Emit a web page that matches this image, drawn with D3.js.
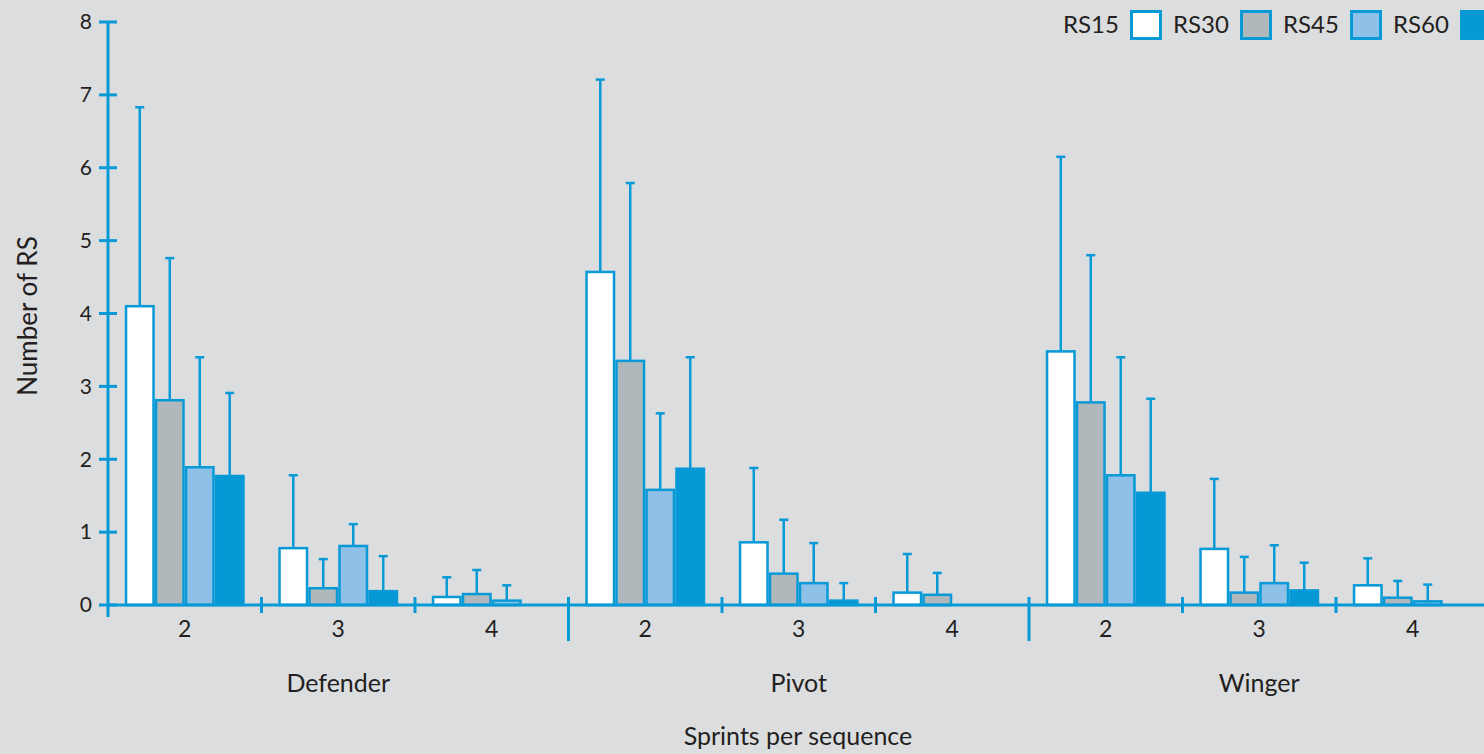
<!DOCTYPE html>
<html>
<head>
<meta charset="utf-8">
<script src="https://cdn.jsdelivr.net/npm/d3@7"></script>
<style>
  html, body { margin: 0; padding: 0; background: #dcdddf; overflow: hidden; }
  svg { display: block; font-family: Lato, "Noto Sans", sans-serif; }
</style>
</head>
<body>
<svg id="chart" width="1484" height="754"></svg>
<script>
// Positions on court and sprints per sequence
const positions = ["Defender", "Pivot", "Winger"];
const sprints = ["2", "3", "4"];
const series = ["RS15", "RS30", "RS45", "RS60"];
const yTicks = [0, 1, 2, 3, 4, 5, 6, 7, 8];

// Mean number of repeated sprints, ordered position x sprints
const rs15 = [4.10, 0.78, 0.11, 4.57, 0.86, 0.17, 3.48, 0.77, 0.27];
const rs30 = [2.81, 0.23, 0.15, 3.35, 0.43, 0.14, 2.78, 0.17, 0.10];
const rs45 = [1.89, 0.81, 0.06, 1.58, 0.30, 0, 1.78, 0.30, 0.05];
const rs60 = [1.77, 0.19, 0, 1.87, 0.06, 0, 1.54, 0.20, 0];

// Standard deviations (upper whisker length)
const sd15 = [2.73, 1.00, 0.27, 2.64, 1.02, 0.53, 2.67, 0.96, 0.37];
const sd30 = [1.95, 0.40, 0.33, 2.44, 0.74, 0.30, 2.02, 0.49, 0.23];
const sd45 = [1.51, 0.30, 0.21, 1.05, 0.55, 0, 1.62, 0.52, 0.23];
const sd60 = [1.14, 0.48, 0, 1.53, 0.24, 0, 1.29, 0.38, 0];

const means = [rs15, rs30, rs45, rs60];
const sds = [sd15, sd30, sd45, sd60];

const fills = ["#ffffff", "#b1b8bb", "#8ec0e8", "#0798d6"];
const blue = "#0899d7";
const textColor = "#231f20";

const svg = d3.select("#chart");

const plotLeft = 108, plotTop = 22, plotBottom = 605;
const step = 153.5;

const y = d3.scaleLinear().domain([0, 8]).range([plotBottom, plotTop]);

const xGroup = d3.scaleBand().domain(positions)
  .range([plotLeft, plotLeft + step * 9]).padding(0);
const xSub = d3.scaleBand().domain(sprints)
  .range([0, xGroup.bandwidth()]).padding(0);
const xSeries = d3.scaleBand().domain(series)
  .range([0, xSub.bandwidth()]).paddingInner(0).paddingOuter(0.56);

// Flatten into records
const records = [];
positions.forEach((p, pi) => {
  sprints.forEach((s, si) => {
    const k = pi * 3 + si;
    series.forEach((r, ri) => {
      records.push({ p, s, r, ri, mean: means[ri][k], sd: sds[ri][k] });
    });
  });
});

const xOf = d => xGroup(d.p) + xSub(d.s) + xSeries(d.r);
const bw = xSeries.bandwidth();
const sw = 2.5;

const drawn = records.filter(d => d.mean > 0);

// Error whiskers (drawn behind bars)
const err = svg.append("g").attr("stroke", blue).attr("stroke-width", sw).attr("fill", "none");
err.selectAll("line.v").data(drawn).join("line")
  .attr("class", "v")
  .attr("x1", d => xOf(d) + bw / 2).attr("x2", d => xOf(d) + bw / 2)
  .attr("y1", d => y(d.mean)).attr("y2", d => y(d.mean + d.sd));
err.selectAll("line.cap").data(drawn).join("line")
  .attr("class", "cap")
  .attr("x1", d => xOf(d) + bw / 2 - 4.5).attr("x2", d => xOf(d) + bw / 2 + 4.5)
  .attr("y1", d => y(d.mean + d.sd)).attr("y2", d => y(d.mean + d.sd));

// Bars
svg.append("g").selectAll("rect").data(drawn).join("rect")
  .attr("x", d => xOf(d) + sw / 2)
  .attr("width", bw - sw)
  .attr("y", d => y(d.mean))
  .attr("height", d => y(0) - y(d.mean))
  .attr("fill", d => fills[d.ri])
  .attr("stroke", blue)
  .attr("stroke-width", sw);

// Y axis
const yAxis = svg.append("g");
yAxis.append("line").attr("x1", plotLeft).attr("x2", plotLeft)
  .attr("y1", y(8) - 1).attr("y2", plotBottom + 12)
  .attr("stroke", blue).attr("stroke-width", 3);
yAxis.selectAll("line.t").data(yTicks).join("line")
  .attr("class", "t")
  .attr("x1", plotLeft - 9).attr("x2", plotLeft + 9)
  .attr("y1", d => y(d)).attr("y2", d => y(d))
  .attr("stroke", blue).attr("stroke-width", 3);
yAxis.selectAll("text").data(yTicks).join("text")
  .attr("x", plotLeft - 16).attr("y", d => y(d))
  .attr("dy", "0.35em").attr("text-anchor", "end")
  .attr("fill", textColor).attr("font-size", 21)
  .text(d => d);

// X axis
const xAxis = svg.append("g");
xAxis.append("line").attr("x1", plotLeft).attr("x2", 1484)
  .attr("y1", plotBottom).attr("y2", plotBottom)
  .attr("stroke", blue).attr("stroke-width", 3);

const subTicks = [];
positions.forEach(p => {
  sprints.forEach((s, si) => {
    if (si > 0) subTicks.push(xGroup(p) + xSub(s));
  });
});
xAxis.selectAll("line.sub").data(subTicks).join("line")
  .attr("class", "sub")
  .attr("x1", d => d).attr("x2", d => d)
  .attr("y1", plotBottom - 8).attr("y2", plotBottom + 8)
  .attr("stroke", blue).attr("stroke-width", 3);

const groupTicks = positions.slice(1).map(p => xGroup(p));
xAxis.selectAll("line.grp").data(groupTicks).join("line")
  .attr("class", "grp")
  .attr("x1", d => d).attr("x2", d => d)
  .attr("y1", plotBottom - 8).attr("y2", plotBottom + 36)
  .attr("stroke", blue).attr("stroke-width", 3);

const subLabels = [];
positions.forEach(p => sprints.forEach(s => subLabels.push({ x: xGroup(p) + xSub(s) + xSub.bandwidth() / 2, s })));
xAxis.selectAll("text.sub").data(subLabels).join("text")
  .attr("class", "sub")
  .attr("x", d => d.x).attr("y", 637)
  .attr("text-anchor", "middle").attr("fill", textColor).attr("font-size", 23)
  .text(d => d.s);

xAxis.selectAll("text.grp").data(positions).join("text")
  .attr("class", "grp")
  .attr("x", d => xGroup(d) + xGroup.bandwidth() / 2).attr("y", 692)
  .attr("text-anchor", "middle").attr("fill", textColor).attr("font-size", 25)
  .text(d => d);

// Axis titles
svg.append("text")
  .attr("x", 798).attr("y", 745)
  .attr("text-anchor", "middle").attr("fill", textColor).attr("font-size", 25)
  .text("Sprints per sequence");

svg.append("text")
  .attr("transform", "translate(37,316) rotate(-90)")
  .attr("text-anchor", "middle").attr("fill", textColor).attr("font-size", 26)
  .text("Number of RS");

// Legend
const legendX = d3.scalePoint().domain(series).range([1063, 1393]);
const lg = svg.append("g").selectAll("g").data(series).join("g")
  .attr("transform", d => `translate(${legendX(d)},0)`);
lg.append("text").attr("x", 0).attr("y", 25).attr("dy", "0.35em")
  .attr("fill", textColor).attr("font-size", 24).text(d => d);
lg.append("rect").attr("x", 68.5).attr("y", 11.5).attr("width", 29).attr("height", 27)
  .attr("fill", (d, i) => fills[i]).attr("stroke", blue).attr("stroke-width", 3);
</script>
</body>
</html>
